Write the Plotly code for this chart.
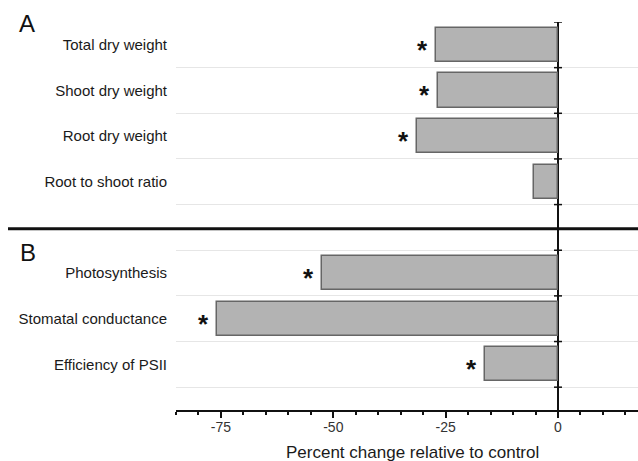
import plotly.graph_objects as go

# ---- data ----
panel_a_labels = ["Total dry weight", "Shoot dry weight", "Root dry weight", "Root to shoot ratio"]
panel_a_values = [-27.2, -26.7, -31.3, -5.3]
panel_a_signif = [True, True, True, False]

panel_b_labels = ["Photosynthesis", "Stomatal conductance", "Efficiency of PSII"]
panel_b_values = [-52.5, -75.8, -16.2]
panel_b_signif = [True, True, True]

x_tick_vals = [-75, -50, -25, 0]
x_tick_text = ["-75", "-50", "-25", "0"]
panel_letters = ["A", "B"]
x_title = "Percent change relative to control"

# category slots: panel A, one empty slot holding the divider, then panel B
labels = panel_a_labels + panel_b_labels
values = panel_a_values + panel_b_values
signif = panel_a_signif + panel_b_signif
gap_slot = len(panel_a_labels)
ypos = list(range(len(panel_a_labels))) + [gap_slot + 1 + i for i in range(len(panel_b_labels))]
n_slots = len(panel_a_labels) + 1 + len(panel_b_labels)

FONT = "Liberation Sans, Arial, Helvetica, sans-serif"
TXT = "#1a1a1a"

fig = go.Figure()
fig.add_trace(go.Bar(
    x=values, y=ypos, orientation="h", width=0.75,
    marker=dict(color="#b3b3b3", line=dict(color="#666666", width=1.5)),
    hoverinfo="skip", showlegend=False,
))

annotations = []
for v, y, s in zip(values, ypos, signif):
    if s:
        annotations.append(dict(x=v, y=y, xref="x", yref="y", text="<b>*</b>", showarrow=False,
                                xanchor="right", yanchor="middle", xshift=-6, yshift=-5,
                                font=dict(family=FONT, size=26, color="#111111")))

L, R, T, B = 176, 0, 22, 51
W, H = 638, 461
pw, ph = W - L - R, H - T - B

def px_x(px):
    return (px - L) / pw

def px_y(py):
    return (H - B - py) / ph

annotations.append(dict(x=px_x(27), y=px_y(24), xref="paper", yref="paper", text=panel_letters[0],
                        showarrow=False, xanchor="center", yanchor="middle",
                        font=dict(family=FONT, size=24, color="#111111")))
annotations.append(dict(x=px_x(28), y=px_y(252), xref="paper", yref="paper", text=panel_letters[1],
                        showarrow=False, xanchor="center", yanchor="middle",
                        font=dict(family=FONT, size=24, color="#111111")))
annotations.append(dict(x=px_x(412), y=px_y(452), xref="paper", yref="paper", text=x_title,
                        showarrow=False, xanchor="center", yanchor="middle",
                        font=dict(family=FONT, size=17, color=TXT)))

shapes = []
# divider between panels
shapes.append(dict(type="line", xref="paper", yref="y", x0=px_x(8), x1=1, y0=gap_slot + 0.03, y1=gap_slot + 0.03,
                   line=dict(color="#111111", width=3), layer="above"))
# small cross ticks on the zero line at slot boundaries
for k in range(n_slots + 1):
    yb = k - 0.5
    shapes.append(dict(type="line", xref="x", yref="y", xsizemode="pixel", xanchor=0,
                       x0=-4, x1=4, y0=yb, y1=yb, line=dict(color="#111111", width=1.5), layer="above"))

fig.update_layout(
    width=W, height=H,
    margin=dict(l=L, r=R, t=T, b=B, pad=0),
    paper_bgcolor="white", plot_bgcolor="white",
    font=dict(family=FONT, color=TXT),
    bargap=0,
    annotations=annotations,
    shapes=shapes,
    xaxis=dict(
        range=[-85, 17.8], tickmode="array", tickvals=x_tick_vals, ticktext=x_tick_text,
        ticks="outside", ticklen=6, tickwidth=1.5, tickcolor="#111111",
        showline=True, linecolor="#111111", linewidth=1.5,
        showgrid=False, zeroline=True, zerolinecolor="#111111", zerolinewidth=2,
        ticklabelstandoff=-3,
        tickfont=dict(family=FONT, size=14, color="#333333"),
        minor=dict(dtick=5, tick0=0, ticks="outside", ticklen=3, tickwidth=1.5, tickcolor="#111111", showgrid=False),
        fixedrange=True,
    ),
    yaxis=dict(
        range=[n_slots, -0.5],
        tickmode="array", tickvals=ypos, ticktext=labels,
        ticks="", showline=False, showgrid=False, zeroline=False,
        ticklabelstandoff=8,
        tickfont=dict(family=FONT, size=15, color=TXT),
        minor=dict(tickmode="array", tickvals=[k + 0.5 for k in range(n_slots)], showgrid=True,
                   gridcolor="#e6e6e6", gridwidth=1, ticks=""),
        fixedrange=True,
    ),
)

fig.write_html("out.html")
